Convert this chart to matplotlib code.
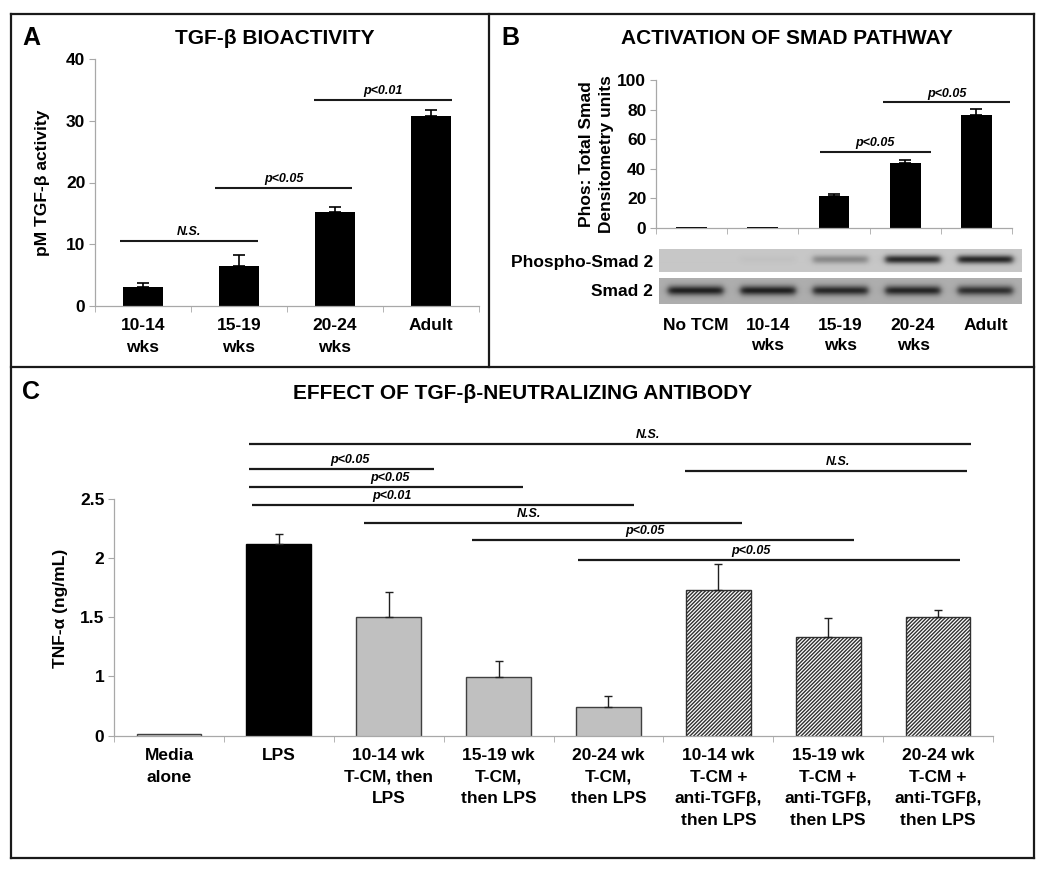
import numpy as np
import matplotlib.pyplot as plt
from matplotlib.lines import Line2D

plt.rcParams['font.family'] = ['Liberation Sans', 'DejaVu Sans']
plt.rcParams['font.weight'] = 'bold'
plt.rcParams['axes.labelweight'] = 'bold'
plt.rcParams['hatch.linewidth'] = 1.0

W, H = 1050, 877

# ---- panel A data
a_labels = ['10-14\nwks', '15-19\nwks', '20-24\nwks', 'Adult']
a_values = [3.1, 6.4, 15.2, 30.8]
a_err = [0.7, 1.9, 0.8, 0.9]
# (start, end, height, text) in data units
a_sig = [(-0.24, 1.2, 10.6, 'N.S.'),
         (0.75, 2.18, 19.1, 'p<0.05'),
         (1.78, 3.22, 33.4, 'p<0.01')]

# ---- panel B data
b_labels = ['No TCM', '10-14\nwks', '15-19\nwks', '20-24\nwks', 'Adult']
b_values = [0.5, 0.5, 21.6, 43.7, 76.6]
b_err = [0, 0, 1.1, 2.0, 3.6]
b_sig = [(1.80, 3.36, 51.4, 'p<0.05'),
         (2.69, 4.47, 84.9, 'p<0.05')]
phospho_band = [0.0, 0.03, 0.35, 0.9, 0.92]
smad_band = [0.95, 0.95, 0.9, 0.92, 0.85]

# ---- panel C data
c_labels = ['Media\nalone', 'LPS', '10-14 wk\nT-CM, then\nLPS', '15-19 wk\nT-CM,\nthen LPS',
            '20-24 wk\nT-CM,\nthen LPS', '10-14 wk\nT-CM +\nanti-TGFβ,\nthen LPS',
            '15-19 wk\nT-CM +\nanti-TGFβ,\nthen LPS', '20-24 wk\nT-CM +\nanti-TGFβ,\nthen LPS']
c_values = [0.517, 2.12, 1.50, 0.995, 0.745, 1.732, 1.33, 1.502]
c_err = [0, 0.08, 0.21, 0.135, 0.087, 0.214, 0.166, 0.056]
c_kind = ['media', 'lps', 'tcm', 'tcm', 'tcm', 'anti', 'anti', 'anti']
# (start, end, height, text, text x)
c_sig = [(0.728, 7.304, 2.96, 'N.S.', 4.36),
         (0.728, 2.412, 2.753, 'p<0.05', 1.647),
         (4.696, 7.261, 2.736, 'N.S.', 6.088),
         (0.728, 3.22, 2.60, 'p<0.05', 2.011),
         (0.756, 4.229, 2.447, 'p<0.01', 2.03),
         (1.775, 5.212, 2.295, 'N.S.', 3.276),
         (2.757, 6.233, 2.149, 'p<0.05', 4.332),
         (3.722, 7.198, 1.985, 'p<0.05', 5.296)]
c_yticks = [0.5, 1, 1.5, 2, 2.5]
c_yticklabels = ['0', '1', '1.5', '2', '2.5']

fig = plt.figure(figsize=(W / 100, H / 100), dpi=100)


def box(x0, x1, y_top, y_bot):
    # pixel box -> figure fraction [left, bottom, width, height]
    return [x0 / W, 1 - y_bot / H, (x1 - x0) / W, (y_bot - y_top) / H]


def style_axes(ax, n):
    for s in ['top', 'right']:
        ax.spines[s].set_visible(False)
    for s in ['left', 'bottom']:
        ax.spines[s].set_color('#a8a8a8')
        ax.spines[s].set_linewidth(0.9)
    ax.set_xlim(-0.5, n - 0.5)
    ax.set_xticks(range(n))
    ax.set_xticks(np.arange(-0.5, n, 1), minor=True)
    ax.tick_params(axis='x', which='major', length=0, pad=9, labelsize=12.5)
    ax.tick_params(axis='x', which='minor', length=4, color='#a8a8a8')
    ax.tick_params(axis='y', length=4, color='#a8a8a8', labelsize=12.5, pad=3)


def sig_lines(ax, items, lw=1.5, centre=True):
    for it in items:
        x0, x1, y, txt = it[:4]
        tx = (x0 + x1) / 2 if centre else it[4]
        ax.plot([x0, x1], [y, y], color='#1a1a1a', lw=lw, clip_on=False, solid_capstyle='butt')
        ax.annotate(txt, (tx, y), xytext=(0, 2), textcoords='offset points',
                    ha='center', va='bottom', fontsize=9, style='italic', fontweight='bold')


# ---------------- Panel A
axA = fig.add_axes(box(95, 479, 59, 306))
style_axes(axA, 4)
xa = np.arange(4)
axA.bar(xa, a_values, width=0.42, color='black')
axA.errorbar(xa, a_values, yerr=[np.zeros(4), a_err], fmt='none', ecolor='black',
             elinewidth=1.2, capsize=4, capthick=1.2)
axA.set_ylim(0, 40)
axA.set_yticks([0, 10, 20, 30, 40])
axA.set_xticklabels(a_labels, linespacing=1.55)
axA.set_ylabel('pM TGF-β activity', fontsize=12.5)
axA.yaxis.set_label_coords(-0.117, 0.5)
sig_lines(axA, a_sig)

# ---------------- Panel B
axB = fig.add_axes(box(656, 1012, 80, 228))
style_axes(axB, 5)
xb = np.arange(5)
axB.bar(xb, b_values, width=0.435, color='black')
axB.errorbar(xb[2:], b_values[2:], yerr=[np.zeros(3), b_err[2:]], fmt='none', ecolor='black',
             elinewidth=1.2, capsize=4, capthick=1.2)
axB.set_ylim(0, 100)
axB.set_yticks([0, 20, 40, 60, 80, 100])
axB.set_xticklabels([])
axB.set_ylabel('Phos: Total Smad\nDensitometry units', fontsize=12.5, linespacing=1.4)
axB.yaxis.set_label_coords(-0.118, 0.5)
sig_lines(axB, b_sig)


def blot(intensity, bg, shift):
    cols = np.linspace(-0.5, 4.5, 363)
    rows = np.linspace(-1, 1, 25)
    img = np.full((rows.size, cols.size), bg)
    for lane, k in enumerate(intensity):
        horiz = 0.5 * (1 - np.tanh((np.abs(cols - lane) - 0.38) / 0.05))
        vert = np.exp(-(rows - shift) ** 2 / 0.14)
        img -= k * (bg - 0.1) * np.outer(vert, horiz)
    return img


axP = fig.add_axes(box(659, 1022, 249, 272))
axP.imshow(blot(phospho_band, 0.78, -0.1), cmap='gray', vmin=0, vmax=1, aspect='auto',
           extent=(-0.5, 4.5, 0, 1))
axP.set_axis_off()
axS = fig.add_axes(box(659, 1022, 278, 304))
axS.imshow(blot(smad_band, 0.68, 0.0), cmap='gray', vmin=0, vmax=1, aspect='auto',
           extent=(-0.5, 4.5, 0, 1))
for s in axS.spines.values():
    s.set_visible(False)
axS.set_yticks([])
axS.set_xticks(range(5))
axS.set_xticklabels(b_labels, linespacing=1.4)
axS.tick_params(axis='x', length=0, pad=10, labelsize=12.5)
fig.text(653 / W, 1 - 262 / H, 'Phospho-Smad 2', ha='right', va='center', fontsize=12.5)
fig.text(653 / W, 1 - 291 / H, 'Smad 2', ha='right', va='center', fontsize=12.5)

# ---------------- Panel C
axC = fig.add_axes(box(114, 993, 433.5, 735.7))
style_axes(axC, 8)
xc = np.arange(8)
for i, k in enumerate(c_kind):
    if k == 'lps':
        axC.bar(i, c_values[i], width=0.59, color='black', edgecolor='black')
    elif k == 'anti':
        axC.bar(i, c_values[i], width=0.59, color='white', edgecolor='#303030',
                hatch='/////////', linewidth=1)
    else:
        axC.bar(i, c_values[i], width=0.59, color='#c0c0c0', edgecolor='#404040', linewidth=1)
eb = [i for i in range(8) if c_err[i] > 0]
axC.errorbar(xc[eb], np.array(c_values)[eb], yerr=[np.zeros(len(eb)), np.array(c_err)[eb]],
             fmt='none', ecolor='#202020', elinewidth=1, capsize=3, capthick=1)
axC.set_ylim(0.5, 3.05)
axC.spines['left'].set_bounds(0.5, 2.5)
axC.set_yticks(c_yticks)
axC.set_yticklabels(c_yticklabels)
axC.set_xticklabels(c_labels, linespacing=1.55)
axC.set_ylabel('TNF-α (ng/mL)', fontsize=12.5)
axC.yaxis.set_label_coords(-0.052, 0.42)
sig_lines(axC, c_sig, lw=1.6, centre=False)

# ---------------- titles and letters
fig.text(31 / W, 1 - 38 / H, 'A', ha='center', va='center', fontsize=18)
fig.text(510 / W, 1 - 38 / H, 'B', ha='center', va='center', fontsize=18)
fig.text(31 / W, 1 - 392 / H, 'C', ha='center', va='center', fontsize=18)
fig.text(275 / W, 1 - 39 / H, 'TGF-β BIOACTIVITY', ha='center', va='center', fontsize=15)
fig.text(787 / W, 1 - 39 / H, 'ACTIVATION OF SMAD PATHWAY', ha='center', va='center', fontsize=15)
fig.text(523 / W, 1 - 393 / H, 'EFFECT OF TGF-β-NEUTRALIZING ANTIBODY', ha='center', va='center',
         fontsize=15)

# ---------------- panel frames
frame = [((11, 1034), (14, 14)), ((11, 1034), (858, 858)), ((11, 11), (14, 858)),
         ((1034, 1034), (14, 858)), ((11, 1034), (367, 367)), ((489, 489), (14, 367))]
for xs, ys in frame:
    fig.add_artist(Line2D([x / W for x in xs], [1 - y / H for y in ys], transform=fig.transFigure,
                          color='#1a1a1a', lw=1.6))

fig.savefig('out.png', dpi=100)
